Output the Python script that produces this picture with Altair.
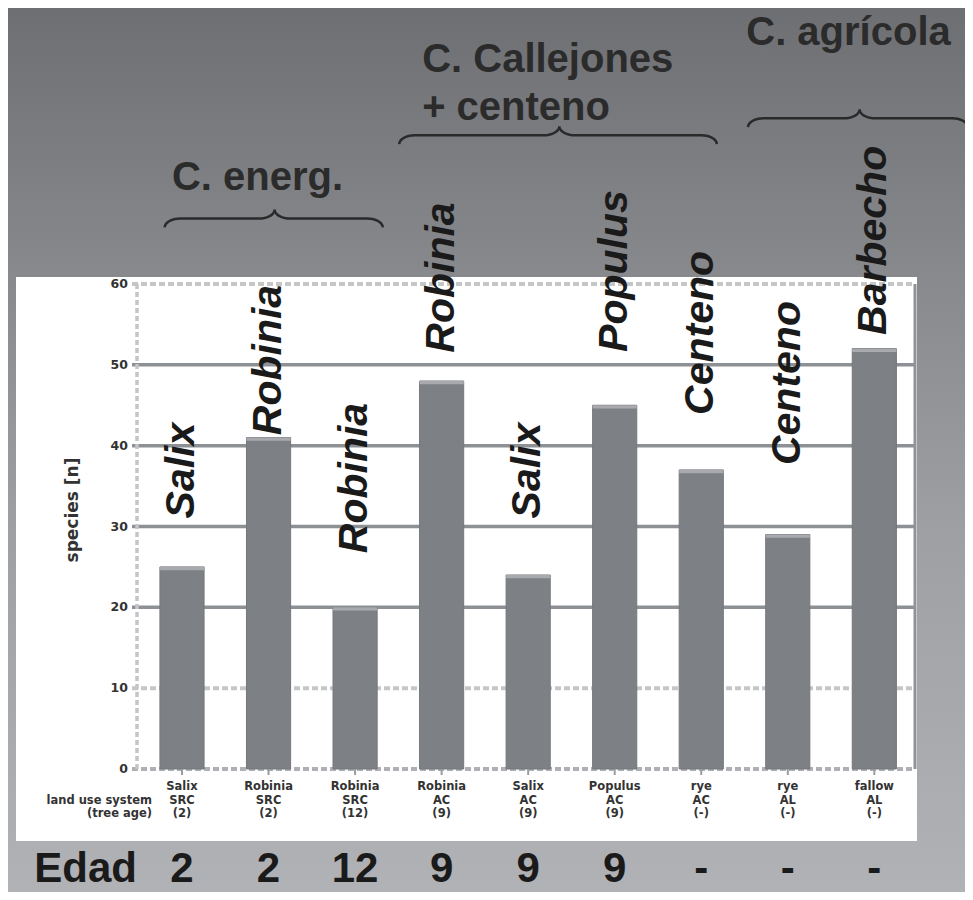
import altair as alt
import pandas as pd
import numpy as np

# ---------------- data ----------------
species = ["Salix", "Robinia", "Robinia", "Robinia", "Salix", "Populus", "rye", "rye", "fallow"]
land_use = ["SRC", "SRC", "SRC", "AC", "AC", "AC", "AC", "AL", "AL"]
tree_age = ["(2)", "(2)", "(12)", "(9)", "(9)", "(9)", "(-)", "(-)", "(-)"]
n_species = [25, 41, 20, 48, 24, 45, 37, 29, 52]
label_es = ["Salix", "Robinia", "Robinia", "Robinia", "Salix", "Populus", "Centeno", "Centeno", "Barbecho"]
edad = ["2", "2", "12", "9", "9", "9", "-", "-", "-"]
y_ticks = [0, 10, 20, 30, 40, 50, 60]

# annotation anchors (species units / bar-index units)
label_y = [31.0, 41.3, 26.7, 51.5, 31.0, 51.6, 43.8, 37.6, 53.7]
brace_from = [-0.2, 2.51, 6.54]
brace_to = [2.32, 6.18, 9.08]
brace_tip = [1.07, 4.36, 7.83]
brace_base = [67.0, 77.3, 79.4]
group_text = ["C. energ.", "C. Callejones", "+ centeno", "C. agrícola"]
group_x = [-0.116, 2.775, 2.775, 6.52]
group_y = [71.6, 86.2, 80.3, 89.6]

W, H = 778, 485

df = pd.DataFrame({
    "i": list(range(len(species))),
    "species": species, "land_use": land_use, "tree_age": tree_age,
    "n": n_species, "label": label_es, "label_y": label_y, "edad": edad,
})

xs = alt.Scale(domain=[-0.52, 8.47], nice=False, zero=False)
ys = alt.Scale(domain=[0, 60], nice=False, zero=False)

# brace geometry
pts = []
for g, (a, b, m, y0) in enumerate(zip(brace_from, brace_to, brace_tip, brace_base)):
    ym, yt, rx = y0 + 1.1, y0 + 2.2, 0.18
    t = np.linspace(0, np.pi / 2, 10)
    seg = []
    seg += list(zip(a + rx * (1 - np.cos(t)), y0 + (ym - y0) * np.sin(t)))
    seg += list(zip(m - rx + rx * np.sin(t), ym + (yt - ym) * (1 - np.cos(t))))
    seg += list(zip(m + rx * (1 - np.cos(t)), yt + (ym - yt) * np.sin(t)))
    seg += list(zip(b - rx + rx * np.sin(t), ym + (y0 - ym) * (1 - np.cos(t))))
    for k, (px, py) in enumerate(seg):
        pts.append({"g": g, "o": k, "x": float(px), "y": float(py)})
brace_df = pd.DataFrame(pts)
group_df = pd.DataFrame({"t": group_text, "x": group_x, "y": group_y})
tick_df = pd.DataFrame({"v": y_ticks})

one = alt.Data(values=[{"k": 1}])

grad = alt.LinearGradient(
    gradient="linear", x1=0, x2=0, y1=0, y2=1,
    stops=[alt.GradientStop(color="#6e6f73", offset=0),
           alt.GradientStop(color="#88898d", offset=0.3),
           alt.GradientStop(color="#9fa0a4", offset=0.6),
           alt.GradientStop(color="#b1b2b6", offset=1)])

X = lambda f: alt.X(f, scale=xs, axis=None)
Y = lambda f: alt.Y(f, scale=ys, axis=None)

bg = alt.Chart(one).mark_rect(fill=grad).encode(
    x=alt.value(-129), x2=alt.value(W + 50), y=alt.value(-276), y2=alt.value(H + 123))
panel = alt.Chart(one).mark_rect(fill="white").encode(
    x=alt.value(-121), x2=alt.value(780), y=alt.value(-7), y2=alt.value(557))

solid_grid = pd.DataFrame({"v": [20, 30, 40, 50]})
light_grid = pd.DataFrame({"v": [10, 60]})
base_grid = pd.DataFrame({"v": [0]})

g1 = alt.Chart(solid_grid).mark_rule(color="#8d9094", strokeWidth=3.5).encode(
    y=Y("v:Q"), x=alt.value(-5), x2=alt.value(W))
g2 = alt.Chart(light_grid).mark_rule(color="#c4c6c8", strokeWidth=4, strokeDash=[6, 3]).encode(
    y=Y("v:Q"), x=alt.value(-5), x2=alt.value(W))
g3 = alt.Chart(base_grid).mark_rule(color="#aeb0b3", strokeWidth=4, strokeDash=[6, 3]).encode(
    y=Y("v:Q"), x=alt.value(-5), x2=alt.value(W))
lborder = alt.Chart(one).mark_rule(color="#c3c5c7", strokeWidth=3.5, strokeDash=[5, 3]).encode(
    x=alt.value(0), y=alt.value(0), y2=alt.value(H))
rborder = alt.Chart(one).mark_rule(color="#8f9296", strokeWidth=3).encode(
    x=alt.value(W), y=alt.value(0), y2=alt.value(H))

base = alt.Chart(df).transform_calculate(lo="datum.i - 0.255", hi="datum.i + 0.255",
                                         cap="datum.n - 0.4", z="0")

bars = base.mark_rect(color="#7d8084", stroke="#74777b", strokeWidth=1).encode(
    x=X("lo:Q"), x2="hi:Q", y=Y("n:Q"), y2="z:Q")
caps = base.mark_rect(color="#a8aaad").encode(
    x=X("lo:Q"), x2="hi:Q", y=Y("n:Q"), y2="cap:Q")
xticks = alt.Chart(df).mark_rule(color="#9a9c9f", strokeWidth=2).encode(
    x=X("i:Q"), y=alt.value(H), y2=alt.value(H + 6))

axis_txt = dict(font="DejaVu Sans", fontWeight="bold", fontSize=11.5, color="#333333")
row1 = alt.Chart(df).mark_text(baseline="middle", **axis_txt).encode(
    x=X("i:Q"), y=alt.value(H + 18), text="species:N")
row2 = alt.Chart(df).mark_text(baseline="middle", **axis_txt).encode(
    x=X("i:Q"), y=alt.value(H + 31.5), text="land_use:N")
row3 = alt.Chart(df).mark_text(baseline="middle", **axis_txt).encode(
    x=X("i:Q"), y=alt.value(H + 45), text="tree_age:N")
row_head2 = alt.Chart(one).mark_text(text="land use system", align="right", baseline="middle",
                                     **axis_txt).encode(x=alt.value(15), y=alt.value(H + 31.5))
row_head3 = alt.Chart(one).mark_text(text="(tree age)", align="right", baseline="middle",
                                     **axis_txt).encode(x=alt.value(15), y=alt.value(H + 45))

ylabels = alt.Chart(tick_df).mark_text(align="right", baseline="middle", font="DejaVu Sans",
                                       fontWeight="bold", fontSize=12.5, color="#333333").encode(
    y=Y("v:Q"), x=alt.value(-9), text="v:Q")
ytitle = alt.Chart(one).mark_text(text="species [n]", angle=270, align="center",
                                  baseline="middle", font="DejaVu Sans", fontWeight="bold",
                                  fontSize=17, color="#333333").encode(
    x=alt.value(-64), y=alt.value(226))

labels = alt.Chart(df).mark_text(
    angle=270, align="left", baseline="middle", font="Liberation Sans",
    fontStyle="italic", fontWeight="bold", fontSize=41, color="#1a1a1a").encode(
    x=X("i:Q"), y=Y("label_y:Q"), text="label:N")

ages = alt.Chart(df).mark_text(
    align="center", baseline="alphabetic", font="Liberation Sans",
    fontWeight="bold", fontSize=42, color="#1a1a1a").encode(
    x=X("i:Q"), y=alt.value(598), text="edad:N")
edad_word = alt.Chart(one).mark_text(
    text="Edad", align="right", baseline="alphabetic", font="Liberation Sans",
    fontWeight="bold", fontSize=42, color="#1a1a1a").encode(x=alt.value(0), y=alt.value(598))

braces = alt.Chart(brace_df).mark_line(color="#2a2a2a", strokeWidth=2.5).encode(
    x=X("x:Q"), y=Y("y:Q"), detail="g:N", order="o:Q")

groups = alt.Chart(group_df).mark_text(
    align="left", baseline="alphabetic", font="Liberation Sans", fontWeight="bold",
    fontSize=40, color="#2b2b2b").encode(x=X("x:Q"), y=Y("y:Q"), text="t:N")

chart = alt.layer(bg, panel, g1, g2, g3, lborder, rborder, bars, caps, xticks,
                  row1, row2, row3, row_head2, row_head3, ylabels, ytitle,
                  labels, ages, edad_word, braces, groups).properties(
    width=W, height=H,
    padding={"left": 129, "top": 276, "right": 50, "bottom": 123},
    autosize=alt.AutoSizeParams(type="none"),
).configure_view(stroke=None).configure(background="#8f9094")

chart.save("out.html", embed_options={"renderer": "svg", "actions": False})
